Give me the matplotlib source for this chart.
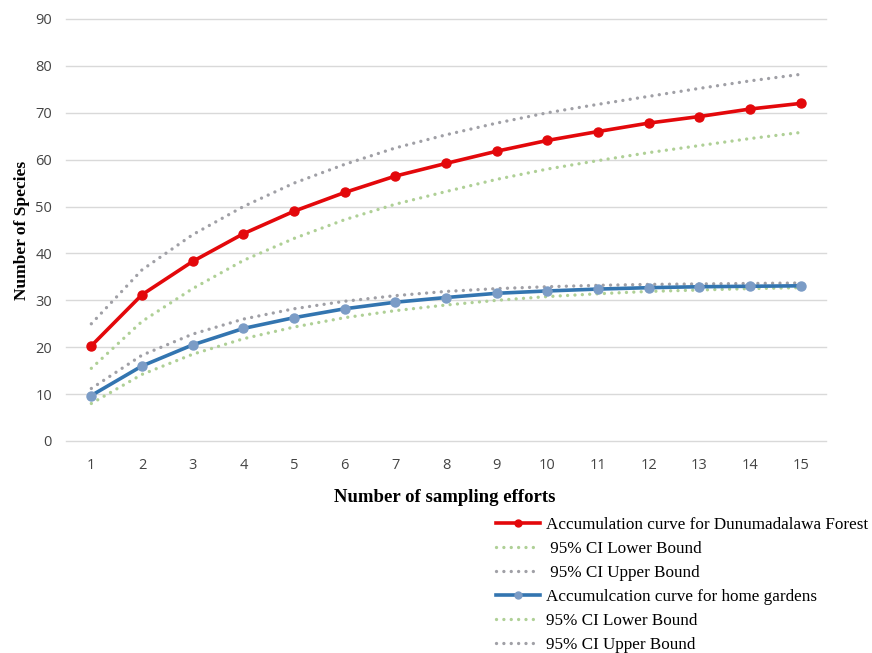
import numpy as np
import matplotlib.pyplot as plt
from matplotlib.lines import Line2D

efforts = np.arange(1, 16)

forest = [20.3, 31.2, 38.3, 44.2, 49.0, 53.0, 56.5, 59.2, 61.8, 64.1, 66.0, 67.8, 69.2, 70.8, 72.0]
forest_lower = [15.5, 25.5, 32.5, 38.5, 43.2, 47.2, 50.5, 53.2, 55.8, 58.0, 59.8, 61.5, 63.0, 64.5, 65.8]
forest_upper = [25.0, 36.5, 44.0, 50.0, 55.0, 59.0, 62.5, 65.3, 67.8, 70.0, 71.8, 73.5, 75.2, 76.8, 78.2]

garden = [9.7, 16.0, 20.5, 24.0, 26.3, 28.2, 29.6, 30.6, 31.5, 32.0, 32.4, 32.7, 32.9, 33.0, 33.1]
garden_lower = [8.0, 14.2, 18.5, 21.8, 24.3, 26.3, 27.8, 29.0, 30.0, 30.8, 31.4, 31.9, 32.2, 32.5, 32.7]
garden_upper = [11.2, 18.3, 22.8, 26.0, 28.2, 29.8, 31.0, 31.9, 32.5, 32.9, 33.2, 33.4, 33.5, 33.6, 33.7]

legend_labels = [
    "Accumulation curve for Dunumadalawa Forest",
    " 95% CI Lower Bound",
    " 95% CI Upper Bound",
    "Accumulcation curve for home gardens",
    "95% CI Lower Bound",
    "95% CI Upper Bound",
]

RED = "#e3080b"
BLUE = "#3375b0"
BLUE_MK = "#7b9cc6"
GREEN = "#afd096"
GRAY = "#a0a0a6"
SERIF = "Liberation Serif"

fig = plt.figure(figsize=(8.72, 6.53), dpi=100)
ax = fig.add_axes([66 / 872, 1 - 441 / 653, 760 / 872, 422 / 653])

# dotted CI lines: tiny dash + round cap = dots
dot = dict(linestyle=(0, (0.01, 2.2)), linewidth=2.4, dash_capstyle="round")
ax.plot(efforts, forest_upper, color=GRAY, **dot)
ax.plot(efforts, forest_lower, color=GREEN, **dot)
ax.plot(efforts, garden_upper, color=GRAY, **dot)
ax.plot(efforts, garden_lower, color=GREEN, **dot)
ax.plot(efforts, forest, color=RED, lw=2.6, marker="o", ms=6.5, mfc=RED, mec=RED)
ax.plot(efforts, garden, color=BLUE, lw=2.6, marker="o", ms=6.5, mfc=BLUE_MK, mec=BLUE_MK)

ax.set_xlim(0.5, 15.5)
ax.set_ylim(0, 90)
ax.set_yticks(range(0, 91, 10))
ax.set_xticks(efforts)
ax.grid(axis="y", color="#d9d9d9", lw=1)
for gl in ax.get_ygridlines():
    gl.set_clip_on(False)
ax.set_axisbelow(True)
for s in ax.spines.values():
    s.set_visible(False)
ax.tick_params(length=0, labelsize=10.5, colors="#444444", pad=12)
ax.tick_params(axis="y", pad=10)
for lab in ax.get_xticklabels() + ax.get_yticklabels():
    lab.set_fontfamily("Open Sans")

ax.set_ylabel("Number of Species", family=SERIF, fontweight="bold", fontsize=12.5, labelpad=4)
fig.text(445 / 872, 1 - 497 / 653, "Number of sampling efforts", family=SERIF,
         fontweight="bold", fontsize=13.5, ha="center", va="center")

handles = [
    Line2D([], [], color=RED, lw=2.6, marker="o", ms=5, mfc=RED, mec=RED),
    Line2D([], [], color=GREEN, **dot),
    Line2D([], [], color=GRAY, **dot),
    Line2D([], [], color=BLUE, lw=2.6, marker="o", ms=5, mfc=BLUE_MK, mec=BLUE_MK),
    Line2D([], [], color=GREEN, **dot),
    Line2D([], [], color=GRAY, **dot),
]
fig.legend(handles, legend_labels, loc="upper left", bbox_to_anchor=(496 / 872, 1 - 517 / 653),
           frameon=False, prop={"family": SERIF, "size": 12.3}, handlelength=2.6,
           handletextpad=0.3, labelspacing=0.47, borderpad=0, borderaxespad=0, numpoints=1)

fig.savefig("out.png", dpi=100)
